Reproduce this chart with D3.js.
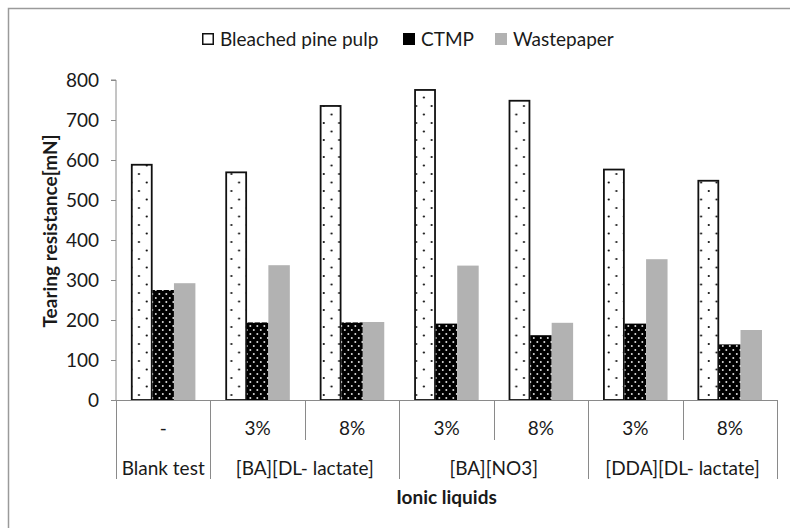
<!DOCTYPE html>
<html><head><meta charset="utf-8">
<script src="https://cdn.jsdelivr.net/npm/d3@7"></script>
<style>
html,body{margin:0;padding:0;background:#fff;}
svg text{font-family:Lato,"Open Sans",sans-serif;fill:#1a1a1a;}
</style></head>
<body><svg id="c" width="790" height="528"></svg>
<script>
const series = ["Bleached pine pulp", "CTMP", "Wastepaper"];
const subLabels = ["-", "3%", "8%", "3%", "8%", "3%", "8%"];
const groupLabels = ["Blank test", "[BA][DL- lactate]", "[BA][NO3]", "[DDA][DL- lactate]"];
const groupSizes = [1, 2, 2, 2];
const bleached = [590, 571, 737, 777, 750, 578, 550];
const ctmp = [275, 194, 194, 191, 162, 191, 139];
const wastepaper = [292, 337, 195, 336, 193, 352, 175];
const yTicks = [0, 100, 200, 300, 400, 500, 600, 700, 800];
const yTitle = "Tearing resistance[mN]";
const xTitle = "Ionic liquids";

const svg = d3.select("#c");
const defs = svg.append("defs");
const p1 = defs.append("pattern").attr("id","pDots").attr("patternUnits","userSpaceOnUse")
  .attr("x",131.5).attr("y",0).attr("width",15.4).attr("height",17);
p1.append("rect").attr("width",15.4).attr("height",17).attr("fill","#fff");
p1.append("circle").attr("cx",7.5).attr("cy",4).attr("r",1.1).attr("fill","#111");
p1.append("circle").attr("cx",15.2).attr("cy",12.5).attr("r",1.1).attr("fill","#111");
p1.append("circle").attr("cx",-0.2).attr("cy",12.5).attr("r",1.1).attr("fill","#111");
const p2 = defs.append("pattern").attr("id","pBlack").attr("patternUnits","userSpaceOnUse")
  .attr("x",0).attr("y",0).attr("width",7).attr("height",8);
p2.append("rect").attr("width",7).attr("height",8).attr("fill","#000");
p2.append("circle").attr("cx",1.8).attr("cy",2).attr("r",1).attr("fill","#ddd");
p2.append("circle").attr("cx",5.3).attr("cy",6).attr("r",1).attr("fill","#ddd");

svg.append("path").attr("d","M8.5,540 V8.5 H800").attr("fill","none").attr("stroke","#9a9a9a").attr("stroke-width",1.5);

const PL = 116, PR = 777, PT = 80, PB = 400;
const y = d3.scaleLinear().domain([0,800]).range([PB, PT]);
const x0 = d3.scaleBand().domain(d3.range(subLabels.length)).range([PL,PR]).paddingInner(0).paddingOuter(0);
const x1 = d3.scaleBand().domain(series).range([0, x0.bandwidth()]).paddingInner(0).paddingOuter(0.7);

const data = subLabels.map((s,i)=>({i, vals:[bleached[i], ctmp[i], wastepaper[i]]}));
const fills = ["url(#pDots)", "url(#pBlack)", "#b2b2b2"];

const yAxis = d3.axisLeft(y).tickValues(yTicks).tickSize(5).tickPadding(12);
const ga = svg.append("g").attr("transform",`translate(${PL},0)`).call(yAxis);
ga.selectAll("path,line").attr("stroke","#8a8a8a");
ga.select(".domain").attr("d",`M-5,${PT}H0V${PB}`).attr("stroke-width",1);
ga.selectAll("text").attr("font-size",19).attr("font-family","Lato").attr("fill","#1a1a1a");

const g = svg.append("g");
data.forEach(d=>{
  d.vals.forEach((v,k)=>{
    const xx = x0(d.i) + x1(series[k]);
    const r = g.append("rect").attr("x",xx).attr("y",y(v)).attr("width",x1.bandwidth()).attr("height",y(0)-y(v))
      .attr("fill",fills[k]);
    if(k===0){
      r.attr("x",xx+0.75).attr("y",y(v)+0.75).attr("width",x1.bandwidth()-1.5).attr("height",y(0)-y(v)-0.75)
       .attr("stroke","#111").attr("stroke-width",1.8);
    }
  });
});

const ax = svg.append("g").attr("stroke","#8a8a8a").attr("stroke-width",1);
ax.append("line").attr("x1",PL).attr("x2",PR).attr("y1",PB+0.5).attr("y2",PB+0.5);
let cum = 0;
const groupBounds = [0];
groupSizes.forEach(n=>{cum+=n; groupBounds.push(cum);});
for(let b=0;b<=subLabels.length;b++){
  const xx = b<subLabels.length ? x0(b) : PR;
  const isGroup = groupBounds.includes(b);
  ax.append("line").attr("x1",Math.round(xx)+0.5).attr("x2",Math.round(xx)+0.5)
    .attr("y1",PB).attr("y2",isGroup?479:440);
}
svg.append("g").selectAll("text").data(subLabels).join("text")
  .attr("x",(d,i)=>x0(i)+x0.bandwidth()/2).attr("y",428).attr("dy","0.35em")
  .attr("text-anchor","middle").attr("font-size",19).text(d=>d);
let start = 0;
groupLabels.forEach((gl,gi)=>{
  const a = x0(start), b = (start+groupSizes[gi] < subLabels.length) ? x0(start+groupSizes[gi]) : PR;
  svg.append("text").attr("x",(a+b)/2).attr("y",468).attr("dy","0.35em")
    .attr("text-anchor","middle").attr("font-size",19).text(gl);
  start += groupSizes[gi];
});
svg.append("text").attr("x",(PL+PR)/2).attr("y",497).attr("dy","0.35em")
  .attr("text-anchor","middle").attr("font-size",19).attr("font-weight","bold").text(xTitle);
const yt = svg.append("text").attr("transform",`translate(50,231) rotate(-90)`).attr("dy","0.35em")
  .attr("text-anchor","middle").attr("font-size",19).attr("font-weight","bold").text(yTitle);
const ytLen = yt.node().getComputedTextLength();
if (ytLen > 205) yt.attr("font-size", 19 * 205 / ytLen);

const legX = [202, 403, 495];
const leg = svg.append("g");
series.forEach((s,k)=>{
  const lx = legX[k];
  const sw = leg.append("rect").attr("x",lx).attr("y",33).attr("width",12).attr("height",12);
  if(k===0) sw.attr("fill","#fff").attr("stroke","#111").attr("stroke-width",1.5).attr("x",lx+0.75).attr("y",33.75).attr("width",10.5).attr("height",10.5);
  else if(k===1) sw.attr("fill","#000");
  else sw.attr("fill","#b2b2b2");
  leg.append("text").attr("x",lx+18).attr("y",39).attr("dy","0.35em").attr("font-size",19).text(s);
});
</script></body></html>
